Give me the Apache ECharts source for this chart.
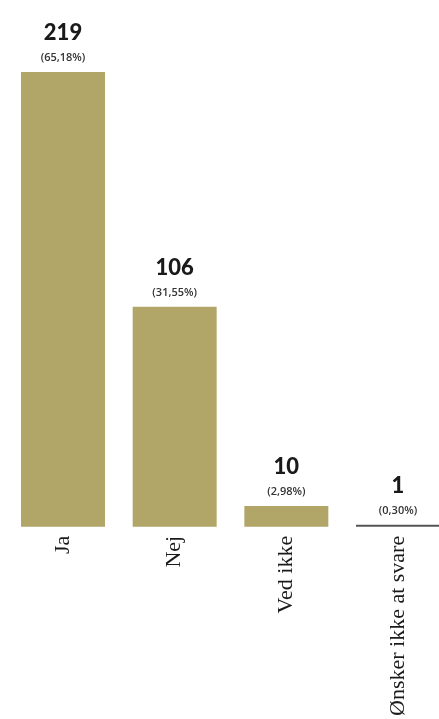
<!DOCTYPE html>
<html><head><meta charset="utf-8">
<script src="https://cdn.jsdelivr.net/npm/echarts@6/dist/echarts.min.js"></script>
<style>html,body{margin:0;padding:0;background:#fff}#c{width:439px;height:719px}</style>
</head><body><div id="c"></div>
<script>
var categories = ['Ja', 'Nej', 'Ved ikke', 'Ønsker ikke at svare'];
var counts = [219, 106, 10, 1];
var percents = ['65,18%', '31,55%', '2,98%', '0,30%'];

var chart = echarts.init(document.getElementById('c'));
var data = counts.map(function (v, i) {
  var item = { value: v };
  if (i === 3) item.itemStyle = { color: '#555' };
  return item;
});
chart.setOption({
  animation: false,
  backgroundColor: '#fff',
  grid: { left: 63, right: 41, top: 72, bottom: 191, containLabel: false },
  xAxis: {
    type: 'category',
    data: categories,
    boundaryGap: false,
    axisLine: { show: false },
    axisTick: { show: false },
    splitLine: { show: false },
    axisLabel: {
      rotate: 90, margin: 9, interval: 0,
      fontFamily: 'Liberation Serif', fontSize: 22, color: '#1a1a1a'
    }
  },
  yAxis: { type: 'value', min: 0, max: 219, show: false, splitLine: { show: false } },
  series: [{
    type: 'bar',
    data: data,
    barWidth: 84,
    clip: false,
    itemStyle: { color: '#b1a667' },
    label: {
      show: true, position: 'top', distance: 7,
      formatter: function (p) {
        return '{v|' + counts[p.dataIndex] + '}\n{p|(' + percents[p.dataIndex] + ')}';
      },
      rich: {
        v: { fontFamily: 'Lato', fontWeight: 900, fontSize: 22, color: '#1a1a1a', lineHeight: 36, align: 'center' },
        p: { fontFamily: 'Open Sans', fontWeight: 600, fontSize: 11, color: '#333', lineHeight: 14, align: 'center' }
      }
    }
  }]
});
</script></body></html>
